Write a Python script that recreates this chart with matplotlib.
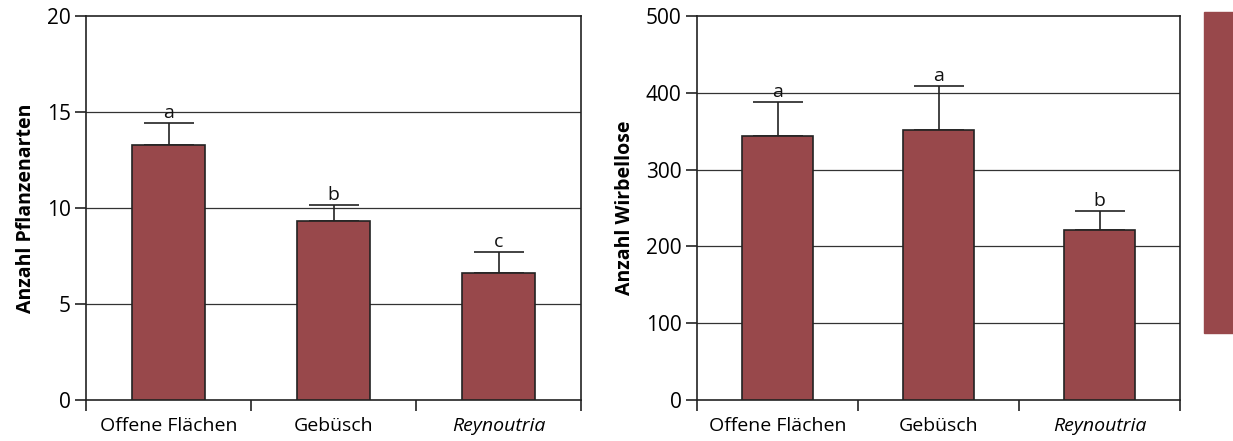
import matplotlib
matplotlib.use("Agg")
import matplotlib.pyplot as plt
from matplotlib.patches import Rectangle

plt.rcParams['font.family'] = ['Open Sans', 'DejaVu Sans']

categories = ["Offene Flächen", "Gebüsch", "Reynoutria"]
plants_mean = [13.3, 9.3, 6.6]
plants_err = [1.15, 0.88, 1.12]
plants_letters = ["a", "b", "c"]
inv_mean = [344, 351, 222]
inv_err = [44, 58, 24]
inv_letters = ["a", "a", "b"]
plants_ticks = [0, 5, 10, 15, 20]
inv_ticks = [0, 100, 200, 300, 400, 500]

bar_color = "#98484b"
edge_color = "#222222"

fig = plt.figure(figsize=(12.33, 4.41), dpi=100)
ax1 = fig.add_axes([86/1233, 41/441, 495/1233, 384/441])
ax2 = fig.add_axes([697/1233, 41/441, 483/1233, 384/441])

def panel(ax, means, errs, letters, ticks, ylabel, off):
    x = range(len(categories))
    ax.bar(x, means, width=0.44, color=bar_color, edgecolor=edge_color,
           linewidth=1.2, zorder=3)
    ax.errorbar(x, means, yerr=[[0]*len(errs), errs], fmt='none',
                ecolor=edge_color, elinewidth=1.2, capsize=18, capthick=1.2,
                zorder=2)
    for xi, m, e, l in zip(x, means, errs, letters):
        ax.text(xi, m + e + off, l, ha='center', va='bottom', fontsize=14,
                color='#111111')
    ax.set_xlim(-0.5, len(categories) - 0.5)
    ax.set_ylim(ticks[0], ticks[-1])
    ax.set_yticks(ticks)
    ax.set_yticklabels([str(t) for t in ticks], fontsize=15)
    for t in ticks[1:-1]:
        ax.axhline(t, color='#333333', linewidth=0.9, zorder=1)
    ax.set_xticks([-0.5, 0.5, 1.5, 2.5])
    ax.set_xticklabels([])
    ax.set_xticks(list(x), minor=True)
    ax.set_xticklabels(categories, minor=True, fontsize=14)
    for lab in ax.get_xticklabels(minor=True):
        if lab.get_text() == "Reynoutria":
            lab.set_style('italic')
    ax.tick_params(axis='x', which='major', length=8, width=1.2, color=edge_color)
    ax.tick_params(axis='x', which='minor', length=0, pad=12)
    ax.tick_params(axis='y', length=8, width=1.2, color=edge_color, pad=3)
    for s in ax.spines.values():
        s.set_linewidth(1.2)
        s.set_color(edge_color)
    ax.set_ylabel(ylabel, fontsize=14, fontweight='bold', labelpad=8)

panel(ax1, plants_mean, plants_err, plants_letters, plants_ticks,
      "Anzahl Pflanzenarten", 0.05)
panel(ax2, inv_mean, inv_err, inv_letters, inv_ticks,
      "Anzahl Wirbellose", 1)

fig.patches.append(Rectangle((1204/1233, (441-333)/441), 29/1233, 321/441,
                             transform=fig.transFigure, color=bar_color,
                             zorder=0))

fig.savefig("out.png", dpi=100)
